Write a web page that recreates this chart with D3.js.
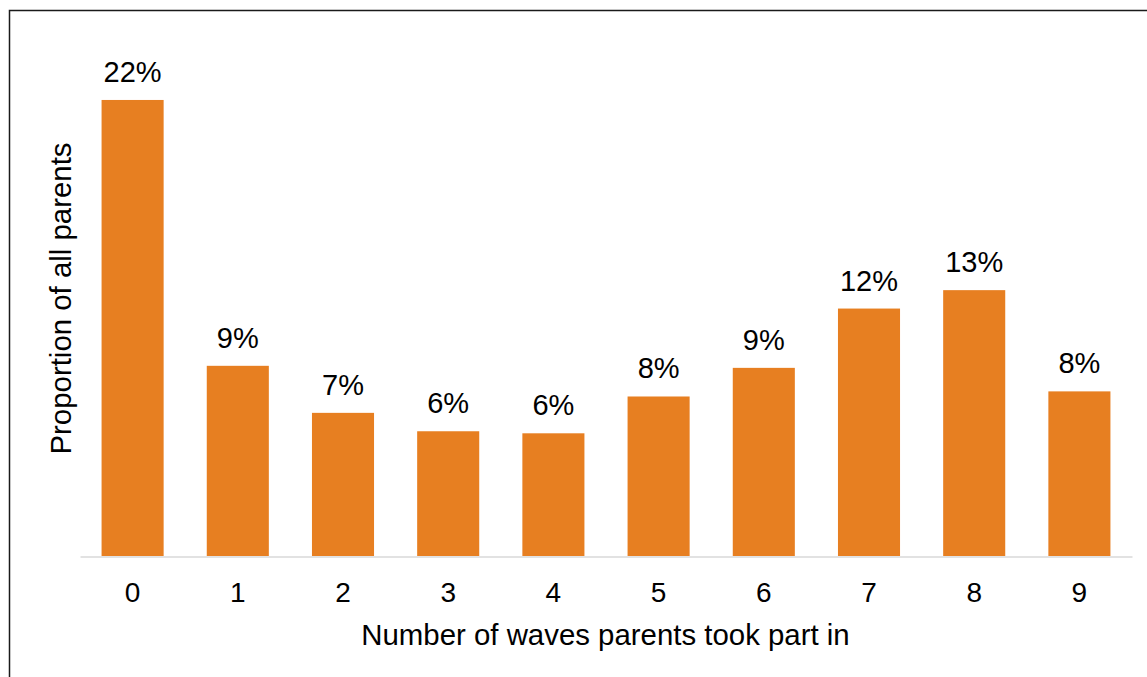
<!DOCTYPE html>
<html>
<head>
<meta charset="utf-8">
<script src="https://cdn.jsdelivr.net/npm/d3@7"></script>
<style>
  html, body { margin: 0; padding: 0; background: #fff; }
  svg { display: block; font-family: "Liberation Sans", Arial, sans-serif; }
</style>
</head>
<body>
<svg id="chart" width="1147" height="677"></svg>
<script>
// Share of parents by number of survey waves taken part in (%)
const waves = ["0", "1", "2", "3", "4", "5", "6", "7", "8", "9"];
const shares = [22.3, 9.3, 7.0, 6.1, 6.0, 7.8, 9.2, 12.1, 13.0, 8.05];

const xTitle = "Number of waves parents took part in";
const yTitle = "Proportion of all parents";

const svg = d3.select("#chart");

// Outer frame (runs off the right and bottom edges)
svg.append("rect")
  .attr("x", 9.5).attr("y", 10.5)
  .attr("width", 1300).attr("height", 800)
  .attr("fill", "none")
  .attr("stroke", "#1a1a1a")
  .attr("stroke-width", 1.5);

const plot = { left: 80, right: 1132, top: 65.2, bottom: 556 };

const x = d3.scaleBand()
  .domain(waves)
  .range([plot.left, plot.right])
  .paddingInner(0.41)
  .paddingOuter(0.205);

const y = d3.scaleLinear()
  .domain([0, 24])
  .range([plot.bottom, plot.top]);

const data = waves.map((w, i) => ({ wave: w, value: shares[i] }));

// Bars
svg.append("g")
  .selectAll("rect")
  .data(data)
  .join("rect")
  .attr("x", d => x(d.wave))
  .attr("y", d => y(d.value))
  .attr("width", x.bandwidth())
  .attr("height", d => y(0) - y(d.value))
  .attr("fill", "#E77F21");

// Value labels
svg.append("g")
  .selectAll("text")
  .data(data)
  .join("text")
  .attr("x", d => x(d.wave) + x.bandwidth() / 2)
  .attr("y", d => y(d.value) - 18)
  .attr("text-anchor", "middle")
  .attr("font-size", 29)
  .attr("fill", "#000")
  .text(d => d3.format(".0f")(d.value) + "%");

// Category axis
const xAxis = svg.append("g")
  .attr("transform", `translate(0,${plot.bottom + 0.5})`)
  .call(d3.axisBottom(x).tickSize(0).tickSizeOuter(0).tickPadding(0));

xAxis.select(".domain")
  .attr("stroke", "#d9d9d9")
  .attr("stroke-width", 1.5);

xAxis.selectAll(".tick text")
  .attr("dy", null)
  .attr("y", 45)
  .attr("font-family", "Liberation Sans, Arial, sans-serif")
  .attr("font-size", 28)
  .attr("fill", "#000");

// Axis titles
svg.append("text")
  .attr("x", (plot.left + plot.right) / 2 - 0.5)
  .attr("y", 645)
  .attr("text-anchor", "middle")
  .attr("font-size", 29.4)
  .attr("fill", "#000")
  .text(xTitle);

svg.append("text")
  .attr("transform", `translate(70.5,298.5) rotate(-90)`)
  .attr("text-anchor", "middle")
  .attr("font-size", 29.4)
  .attr("fill", "#000")
  .text(yTitle);
</script>
</body>
</html>
